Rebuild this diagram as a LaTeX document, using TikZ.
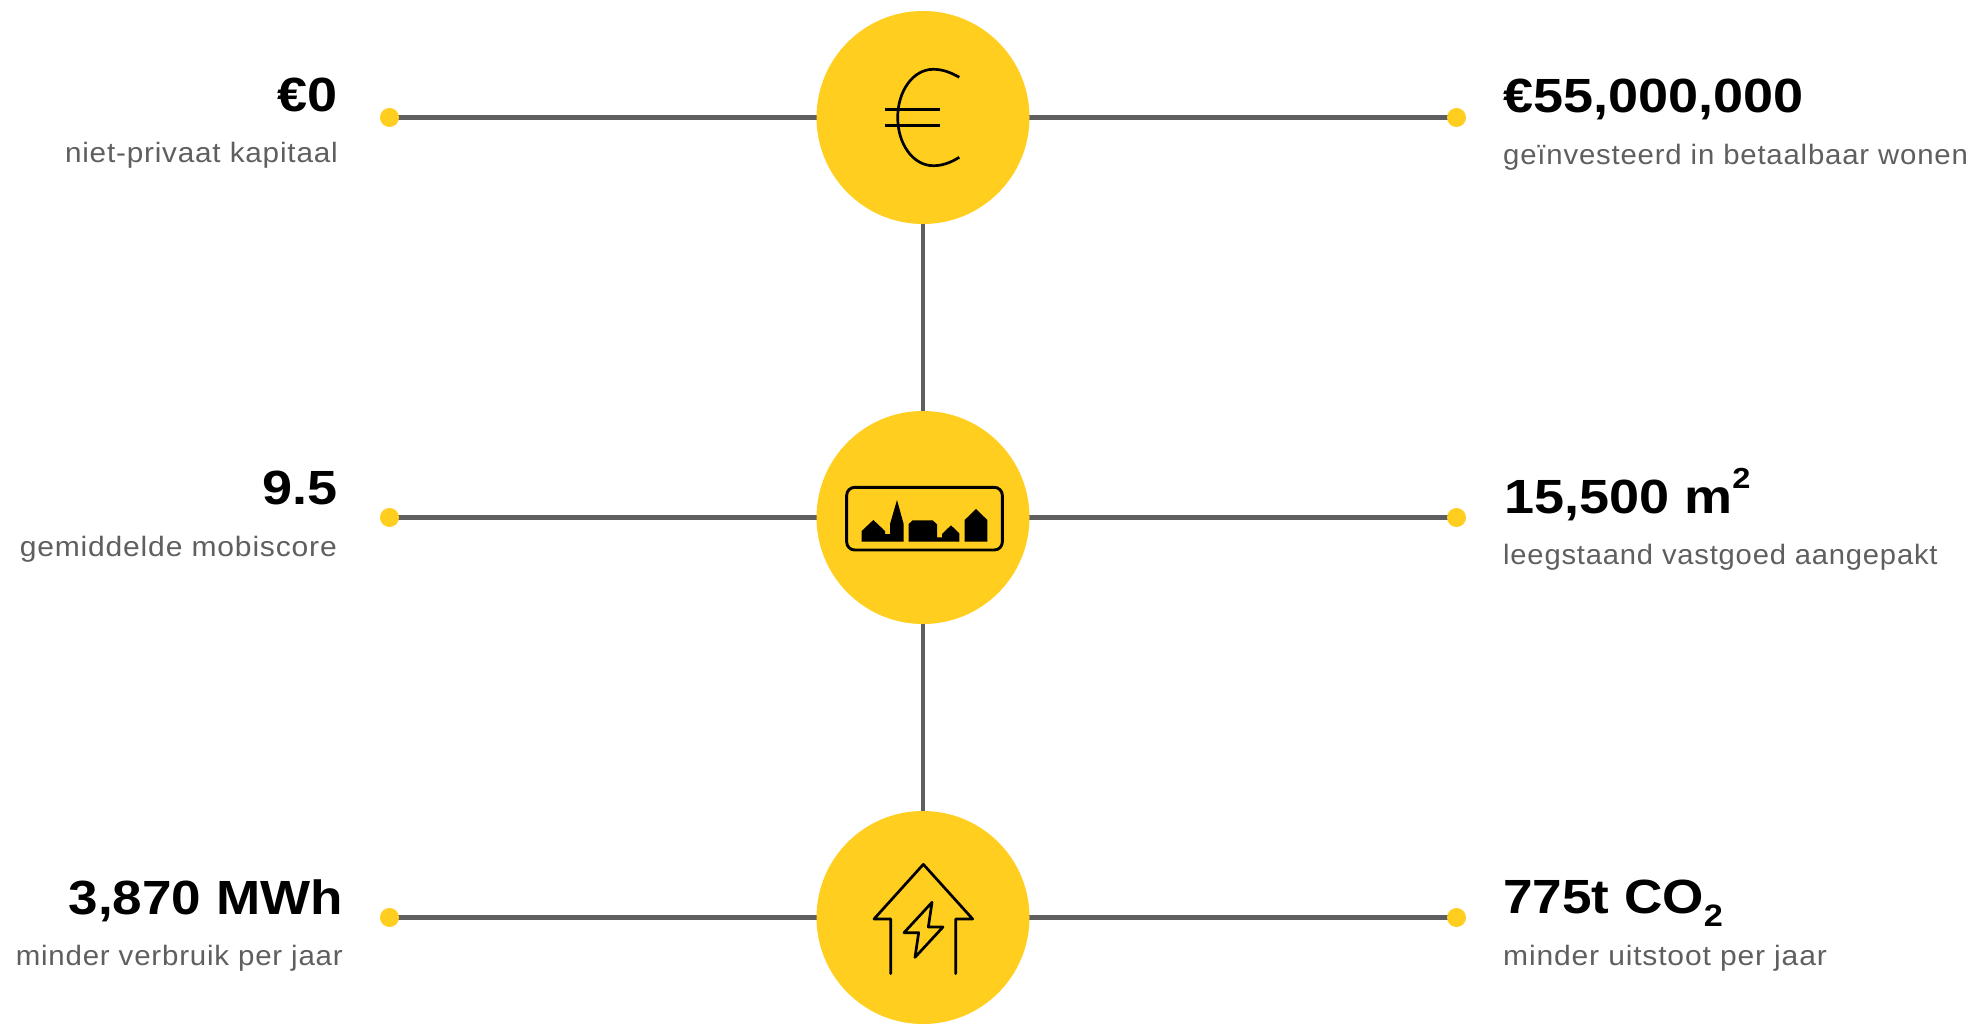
\documentclass[tikz,border=0pt]{standalone}
\usepackage{fontspec}
\usepackage{graphicx}
\usetikzlibrary{backgrounds}
\setmainfont{Liberation Sans}
\newfontfamily\headfont[FakeStretch=1.125,BoldFont={Liberation Sans Bold}]{Liberation Sans Bold}
\newfontfamily\subfont[FakeStretch=1.06,LetterSpace=2.9]{Liberation Sans}
\newcommand{\headsize}{\fontsize{48}{52}\selectfont}
\newcommand{\widthfit}[2]{\scalebox{#1}[1]{#2}}
\definecolor{goldfill}{HTML}{FFCE1E}
\definecolor{greyline}{HTML}{5F5F5F}
\tikzset{
  bigdisc/.style={circle,fill=goldfill,draw=none,minimum size=213pt,inner sep=0pt},
  enddot/.style={circle,fill=goldfill,draw=none,minimum size=19pt,inner sep=0pt},
  linkline/.style={draw=greyline,line width=4.2pt},
  headleft/.style={anchor=base east,inner sep=0pt,text=black,font=\headfont\headsize},
  headright/.style={anchor=base west,inner sep=0pt,text=black,font=\headfont\headsize},
  subleft/.style={anchor=base east,inner sep=0pt,text=greyline,font=\subfont\fontsize{28}{32}\selectfont},
  subright/.style={anchor=base west,inner sep=0pt,text=greyline,font=\subfont\fontsize{28}{32}\selectfont},
  iconline/.style={draw=black,line width=2.7pt,line join=round,line cap=round},
  iconfill/.style={fill=black,draw=none}
}
\begin{document}
\begin{tikzpicture}[x=1pt,y=-1pt]
\useasboundingbox (0,0) rectangle (1972,1024);

\node[bigdisc] (c1) at (923,117.5) {};
\node[bigdisc] (c2) at (923,517.5) {};
\node[bigdisc] (c3) at (923,917.5) {};

\node[enddot] (l1) at (389.5,117.5) {};
\node[enddot] (l2) at (389.5,517.5) {};
\node[enddot] (l3) at (389.5,917.5) {};
\node[enddot] (r1) at (1456.5,117.5) {};
\node[enddot] (r2) at (1456.5,517.5) {};
\node[enddot] (r3) at (1456.5,917.5) {};

\begin{pgfonlayer}{background}
\fill[white] (0,0) rectangle (1972,1024);
\draw[linkline] (l1.center) -- (c1.center);
\draw[linkline] (c1.center) -- (r1.center);
\draw[linkline] (l2.center) -- (c2.center);
\draw[linkline] (c2.center) -- (r2.center);
\draw[linkline] (l3.center) -- (c3.center);
\draw[linkline] (c3.center) -- (r3.center);
\draw[linkline] (c1.center) -- (c2.center);
\draw[linkline] (c2.center) -- (c3.center);
\end{pgfonlayer}

% euro icon
\draw[iconline,line cap=butt] (959.3,77.3) .. controls (950,72) and (942,69.3) .. (933.3,69.3)
  .. controls (913,69.3) and (897.7,91) .. (897.7,117.5)
  .. controls (897.7,144) and (913,165.7) .. (933.3,165.7)
  .. controls (942,165.7) and (950,163) .. (959.3,157.3);
\draw[iconline,line cap=butt] (885,109.3) -- (940,109.3);
\draw[iconline,line cap=butt] (885,125.7) -- (940,125.7);

% town icon
\begin{scope}[shift={(800,400)},x=0.33333pt,y=-0.33333pt]
\draw[draw=black,line width=2.9pt,rounded corners=8pt] (140,262) rectangle (607,450);
\fill[iconfill] (185,425) -- (185,393) -- (220,360) -- (255,393) -- (255,402) -- (270,402) -- (270,372) -- (291,300) -- (311,372) -- (311,425) -- cycle;
\fill[iconfill] (326,425) -- (326,372) -- (338,361) -- (398,361) -- (411,373) -- (411,412) -- (426,412) -- (426,402) -- (453,376) -- (478,400) -- (478,425) -- cycle;
\fill[iconfill] (494,425) -- (494,360) -- (528,327) -- (562,360) -- (562,425) -- cycle;
\end{scope}

% house icon
\begin{scope}[shift={(800,800)},x=0.33333pt,y=-0.33333pt]
\draw[iconline] (272,521) -- (272,357) -- (222,357) -- (370,193) -- (518,357) -- (467,357) -- (467,521);
\draw[iconline] (396,307) -- (312,398) -- (356,398) -- (345,472) -- (429,381) -- (385,381) -- cycle;
\end{scope}

% left texts
\node[headleft] (hl1) at (337.5,112) {€0};
\node[subleft] (sl1) at (338,163) {niet-privaat kapitaal};
\node[headleft] (hl2) at (338,504) {9.5};
\node[subleft] (sl2) at (337,556) {\widthfit{1.012}{gemiddelde mobiscore}};
\node[headleft] (hl3) at (343,914) {\widthfit{0.982}{3,870 MWh}};
\node[subleft] (sl3) at (343,965) {\widthfit{0.992}{minder verbruik per jaar}};

% right texts
\node[headright] (hr1) at (1503,113) {€55,000,000};
\node[subright] (sr1) at (1503,165) {\widthfit{0.989}{geïnvesteerd in betaalbaar wonen}};
\node[headright] (hr2) at (1504,513) {15,500 m\raisebox{25pt}{\fontsize{29}{30}\selectfont 2}};
\node[subright] (sr2) at (1503,564) {\widthfit{0.983}{leegstaand vastgoed aangepakt}};
\node[headright] (hr3) at (1503,913) {\widthfit{0.983}{775t CO\raisebox{-13pt}{\fontsize{31}{32}\selectfont 2}}};
\node[subright] (sr3) at (1503,965) {\widthfit{1.012}{minder uitstoot per jaar}};
\end{tikzpicture}
\end{document}
